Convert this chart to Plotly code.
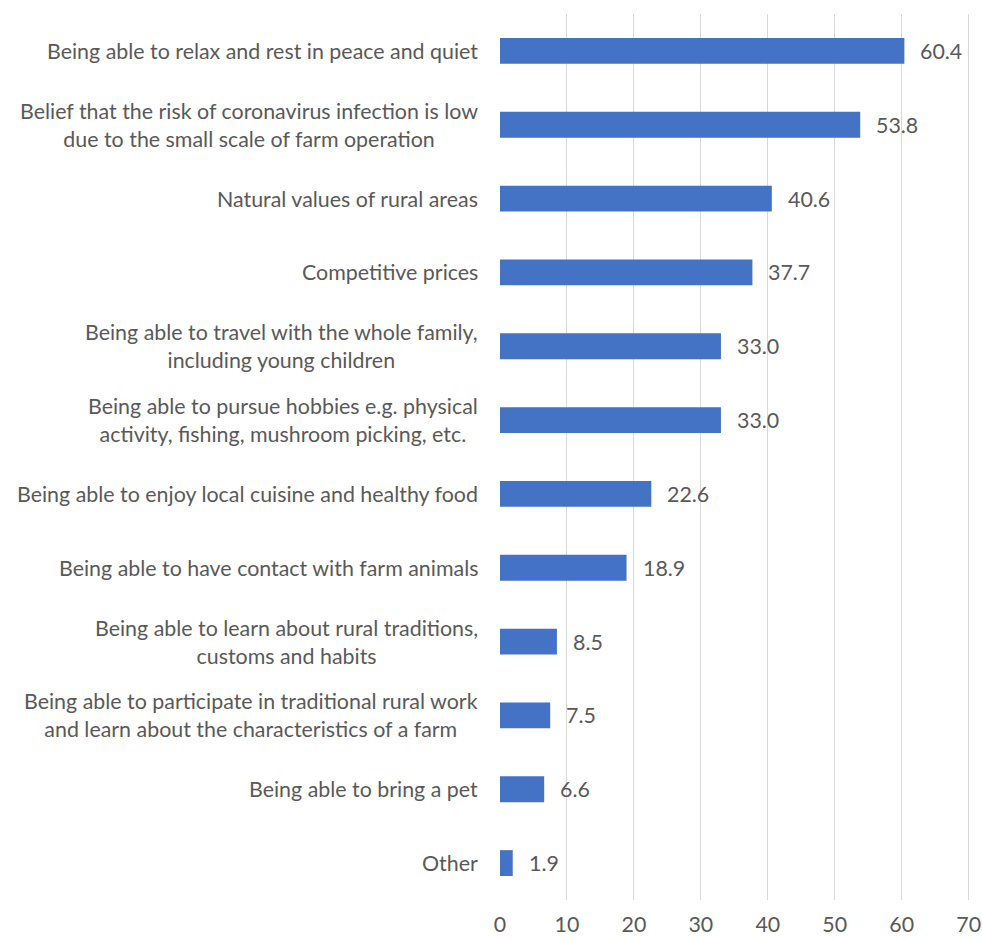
import plotly.graph_objects as go

categories = [
    "Being able to relax and rest in peace and quiet",
    "Belief that the risk of coronavirus infection is low<br>due to the small scale of farm operation",
    "Natural values of rural areas",
    "Competitive prices",
    "Being able to travel with the whole family,<br>including young children",
    "Being able to pursue hobbies e.g. physical<br>activity, fishing, mushroom picking, etc.",
    "Being able to enjoy local cuisine and healthy food",
    "Being able to have contact with farm animals",
    "Being able to learn about rural traditions,<br>customs and habits",
    "Being able to participate in traditional rural work<br>and learn about the characteristics of a farm",
    "Being able to bring a pet",
    "Other",
]
values = [60.4, 53.8, 40.6, 37.7, 33.0, 33.0, 22.6, 18.9, 8.5, 7.5, 6.6, 1.9]
x_ticks = [0, 10, 20, 30, 40, 50, 60, 70]

FONT = "Lato, 'Open Sans', sans-serif"
FS = 21.4
TXT = "#595959"

fig = go.Figure(go.Bar(
    x=values, y=categories, orientation="h",
    marker=dict(color="#4472C4", line=dict(width=0)),
    hoverinfo="skip",
))

annotations = []
for c, v in zip(categories, values):
    annotations.append(dict(
        x=v, y=c, xref="x", yref="y", text=f"{v:.1f}", showarrow=False,
        xanchor="left", xshift=14, font=dict(family=FONT, size=FS, color=TXT),
    ))
    annotations.append(dict(
        x=0, y=c, xref="paper", yref="y", text=c, showarrow=False,
        xanchor="right", xshift=-20, align="center",
        font=dict(family=FONT, size=FS, color=TXT),
    ))

fig.update_layout(
    width=982, height=940,
    margin=dict(l=500, r=12, t=14, b=40),
    paper_bgcolor="white", plot_bgcolor="white",
    bargap=0.65,
    showlegend=False,
    annotations=annotations,
    font=dict(family=FONT, size=FS, color=TXT),
)
fig.update_xaxes(
    range=[0, 70.2], tickvals=x_ticks, showgrid=True, gridcolor="#d9d9d9",
    gridwidth=1, zeroline=False, showline=False, ticks="",
    automargin=False, ticklabelstandoff=10, ticklabeloverflow="allow",
    tickfont=dict(family=FONT, size=FS, color=TXT),
)
fig.update_yaxes(
    autorange="reversed", showticklabels=False, showgrid=False,
    zeroline=False, showline=False, ticks="", automargin=False,
)

fig.write_html("out.html")
